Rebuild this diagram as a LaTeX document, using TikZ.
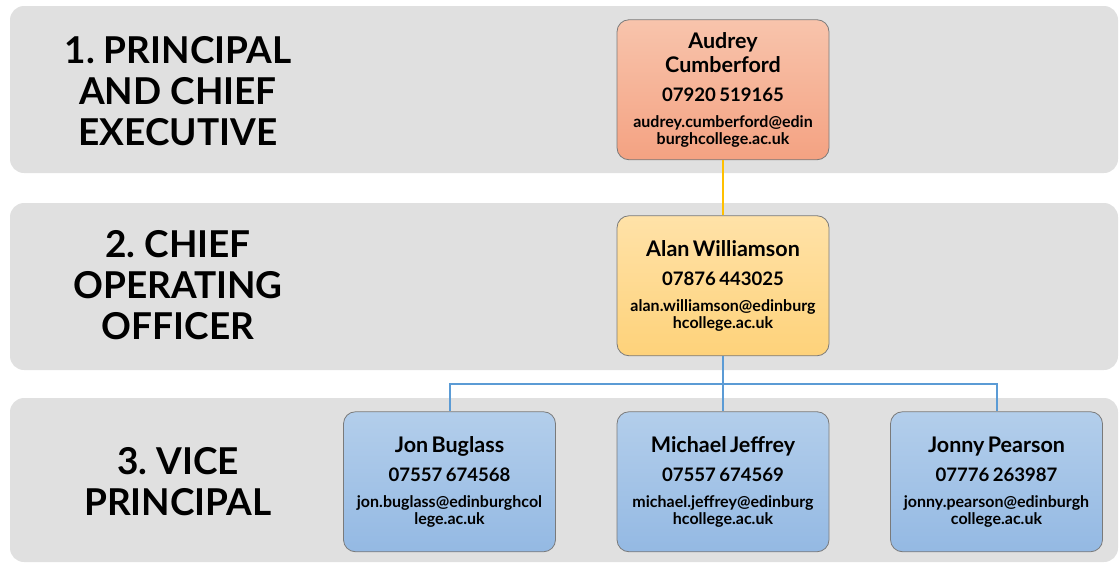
\documentclass[tikz,border=0pt]{standalone}
\usepackage{fontspec}
\setmainfont{Lato}
\usetikzlibrary{positioning}
\frenchspacing

\definecolor{bandgray}{HTML}{E0E0E0}
\definecolor{cardedge}{HTML}{7A7A7A}
\definecolor{ceotop}{HTML}{F8C4AC}
\definecolor{ceobottom}{HTML}{F4A282}
\definecolor{cootop}{HTML}{FFE2A8}
\definecolor{coobottom}{HTML}{FED27A}
\definecolor{vptop}{HTML}{B3CEEB}
\definecolor{vpbottom}{HTML}{94B9E3}
\definecolor{goldline}{HTML}{FFC000}
\definecolor{blueline}{HTML}{5B9BD5}

\newcommand{\namefont}{\fontsize{21.5}{24}\selectfont}
\newcommand{\phonefont}{\fontsize{18.6}{29}\selectfont}
\newcommand{\mailfont}{\fontsize{16}{17}\selectfont}
\newcommand{\staffcard}[4]{{\namefont #1\par}{\phonefont #2\par}\vspace{9pt}{\mailfont #3\\#4\par}}

\begin{document}
\begin{tikzpicture}[x=1pt, y=-1pt, node distance=196pt,
  band/.style={fill=bandgray, rounded corners=14pt},
  level/.style={font=\fontsize{37}{41}\selectfont\bfseries, align=center, inner sep=0pt},
  card/.style={draw=cardedge, line width=0.8pt, rounded corners=12pt,
    minimum width=212pt, minimum height=140pt, text width=208pt,
    align=center, inner sep=0pt, font=\bfseries},
  ceo card/.style={card, top color=ceotop, bottom color=ceobottom},
  coo card/.style={card, top color=cootop, bottom color=coobottom},
  vp card/.style={card, top color=vptop, bottom color=vpbottom},
  link/.style={line width=2pt}]
\useasboundingbox (0,0) rectangle (1119,563);

% level bands
\fill[band] (10,6) rectangle (1118,173);
\fill[band] (10,203) rectangle (1118,370);
\fill[band] (10,398) rectangle (1118,562);

\node[level] (level1) at (178,91.5) {1. PRINCIPAL\\AND CHIEF\\EXECUTIVE};
\node[level] (level2) at (178,285) {2. CHIEF\\OPERATING\\OFFICER};
\node[level] (level3) at (178,481.5) {3. VICE\\PRINCIPAL};

% staff
\node[ceo card]                (audrey)  at (723,89.75)
  {\staffcard{Audrey\\Cumberford}{07920 519165}{audrey.cumberford@edin}{burghcollege.ac.uk}};
\node[coo card, below of=audrey] (alan)
  {\staffcard{Alan Williamson}{07876 443025}{alan.williamson@edinburg}{hcollege.ac.uk}};
\node[vp card, below of=alan]    (michael)
  {\staffcard{Michael Jeffrey}{07557 674569}{michael.jeffrey@edinburg}{hcollege.ac.uk}};
\node[vp card, left of=michael, node distance=273.5pt]  (jon)
  {\staffcard{Jon Buglass}{07557 674568}{jon.buglass@edinburghcol}{lege.ac.uk}};
\node[vp card, right of=michael, node distance=273.5pt] (jonny)
  {\staffcard{Jonny Pearson}{07776 263987}{jonny.pearson@edinburgh}{college.ac.uk}};

% reporting lines
\coordinate[below=28pt of alan.south] (fork);
\path[link, draw=goldline] (audrey) edge (alan);
\draw[link, draw=blueline] (alan.south) -- (michael.north);
\draw[link, draw=blueline] (fork) -| (jon.north);
\draw[link, draw=blueline] (fork) -| (jonny.north);
\end{tikzpicture}
\end{document}
